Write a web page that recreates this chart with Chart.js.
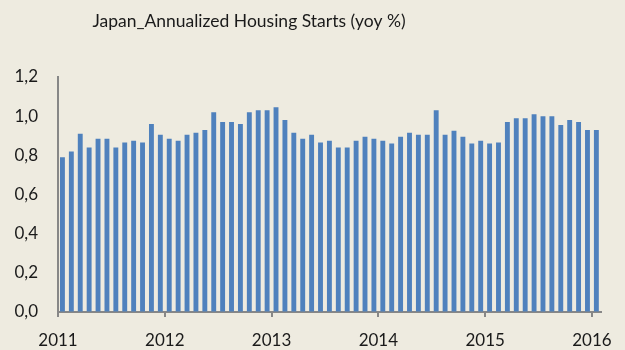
<!DOCTYPE html>
<html>
<head>
<meta charset="utf-8">
<script src="https://cdn.jsdelivr.net/npm/chart.js@4.4.1/dist/chart.umd.min.js"></script>
<style>
  html, body { margin: 0; padding: 0; background: #eeebe0; }
  #wrap { width: 625px; height: 350px; }
</style>
</head>
<body>
<div id="wrap"><canvas id="startsChart"></canvas></div>
<script>
const title = "Japan_Annualized Housing Starts (yoy %)";
const firstYear = 2011;
const yearTicks = [2011, 2012, 2013, 2014, 2015, 2016];
const yTicks = [0, 0.2, 0.4, 0.6, 0.8, 1.0, 1.2];

// monthly readings, Jan 2011 .. Jan 2016
const values2011 = [0.79, 0.82, 0.91, 0.84, 0.885, 0.885, 0.84, 0.865, 0.875, 0.865, 0.96, 0.905];
const values2012 = [0.885, 0.875, 0.905, 0.915, 0.93, 1.02, 0.97, 0.97, 0.96, 1.02, 1.03, 1.03];
const values2013 = [1.045, 0.98, 0.915, 0.885, 0.905, 0.865, 0.875, 0.84, 0.84, 0.875, 0.895, 0.885];
const values2014 = [0.875, 0.86, 0.895, 0.915, 0.905, 0.905, 1.03, 0.905, 0.925, 0.895, 0.86, 0.875];
const values2015 = [0.86, 0.865, 0.97, 0.99, 0.99, 1.01, 1.0, 1.0, 0.955, 0.98, 0.97, 0.93];
const values2016 = [0.93];

const values = [].concat(values2011, values2012, values2013, values2014, values2015, values2016);

// place each month in the middle of its slot on a year axis
const points = values.map((v, i) => ({ x: firstYear + (i + 0.5) / 12, y: v }));
const lastX = firstYear + values.length / 12;

const fontFamily = "Lato, 'Open Sans', sans-serif";
const textColor = "#1a1a1a";
const axisColor = "#878787";

const titlePlugin = {
  id: "offsetTitle",
  afterDraw(chart) {
    const ctx = chart.ctx;
    ctx.save();
    ctx.font = "17.5px " + fontFamily;
    ctx.fillStyle = textColor;
    ctx.textAlign = "center";
    ctx.textBaseline = "middle";
    ctx.fillText(title, 249, 21);
    ctx.restore();
  },
};

function createChart(ctx) {
  return new Chart(ctx, {
    type: "bar",
    data: {
      datasets: [
        {
          data: points,
          backgroundColor: "#4f81bd",
          borderWidth: 0,
          barPercentage: 0.55,
          categoryPercentage: 1,
        },
      ],
    },
    options: {
      responsive: true,
      maintainAspectRatio: false,
      animation: false,
      layout: {
        padding: { top: 77, right: 22, left: 0, bottom: 0 },
      },
      scales: {
        x: {
          type: "linear",
          min: firstYear,
          max: lastX,
          offset: false,
          afterBuildTicks(scale) {
            scale.ticks = yearTicks.map((v) => ({ value: v }));
          },
          afterFit(scale) {
            scale.height = 38;
          },
          grid: {
            offset: false,
            drawOnChartArea: false,
            drawTicks: true,
            tickLength: 5,
            color: axisColor,
            lineWidth: 2,
          },
          border: { display: true, color: axisColor, width: 2 },
          ticks: {
            autoSkip: false,
            maxRotation: 0,
            padding: 13,
            color: textColor,
            font: { family: fontFamily, size: 17 },
            callback: (v) => String(v),
          },
        },
        y: {
          min: 0,
          max: 1.2,
          afterBuildTicks(scale) {
            scale.ticks = yTicks.map((v) => ({ value: v }));
          },
          afterFit(scale) {
            scale.width = 58;
          },
          grid: {
            drawOnChartArea: false,
            drawTicks: false,
            color: "transparent",
          },
          border: { display: true, color: axisColor, width: 2 },
          ticks: {
            padding: 20,
            color: textColor,
            font: { family: fontFamily, size: 17 },
            callback: (v) => v.toFixed(1).replace(".", ","),
          },
        },
      },
      plugins: {
        legend: { display: false },
        tooltip: { enabled: false },
        title: { display: false },
      },
    },
    plugins: [titlePlugin],
  });
}

createChart(document.getElementById("startsChart"));
</script>
</body>
</html>
